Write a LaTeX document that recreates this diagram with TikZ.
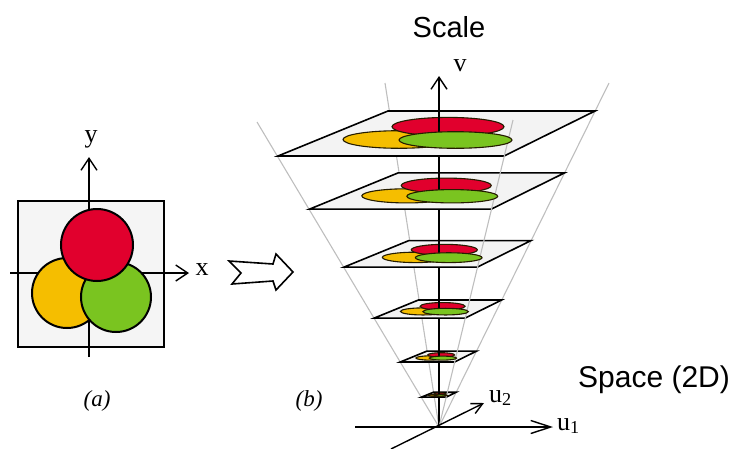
\documentclass[tikz,border=0pt]{standalone}
\usepackage{fontspec}
\setmainfont{Liberation Serif}
\newfontfamily\sansf{Liberation Sans}
\usetikzlibrary{arrows.meta}
\definecolor{cred}{RGB}{225,0,45}
\definecolor{cyel}{RGB}{245,190,0}
\definecolor{cgrn}{RGB}{122,196,32}
\definecolor{cplane}{RGB}{243,243,243}
\definecolor{ccone}{RGB}{190,190,190}
\tikzset{
  axisline/.style={line width=1.4pt, black},
  barb/.style={-{Straight Barb[length=12pt,width=16pt,line width=1.4pt]}},
  smallbarb/.style={-{Straight Barb[length=11pt,width=11pt,line width=1.4pt]}},
  coneline/.style={line width=1.1pt, ccone},
  planebox/.style={fill=cplane, draw=black, line width=1.6pt, line join=miter},
  ellbox/.style={draw=black!85!cyel, line width=1.1pt},
  circbox/.style={draw=black, line width=2pt},
  serlabel/.style={font=\fontsize{26}{30}\selectfont, inner sep=0pt},
  caplabel/.style={font=\itshape\fontsize{23}{27}\selectfont, inner sep=0pt},
  sanslabel/.style={font=\sansf\fontsize{29}{34}\selectfont, inner sep=0pt}
}
\begin{document}
\begin{tikzpicture}[x=1pt,y=-1pt]
\useasboundingbox (0,0) rectangle (737,448);
% ---------- panel (a)
\draw[fill=black!4, draw=black, line width=2.2pt] (18,201) rectangle (164,347);
\draw[axisline, barb] (89,357) -- (89,157);
\draw[axisline, barb] (10,273) -- (189,273);
\node[serlabel] (ylab) at (91,139) {y};
\node[serlabel] (xlab) at (202,270) {x};
\filldraw[circbox, fill=cyel] (67,293) circle [radius=35pt];
\filldraw[circbox, fill=cgrn] (116,297) circle [radius=35pt];
\filldraw[circbox, fill=cred] (97,245) circle [radius=36pt];
\node[caplabel] (alab) at (97,401) {(a)};
% ---------- hollow arrow
\draw[line width=1.6pt, fill=white, line join=miter] (229,261) -- (273,264) -- (276,254) -- (293,272) -- (276,290) -- (273,281) -- (232,284) -- (241,273) -- cycle;
% ---------- panel (b)
\coordinate (apex) at (439,427);
\draw[coneline] (apex) -- (257,122);
\draw[coneline] (apex) -- (609,83);
\draw[coneline] (apex) -- (385,83);
\draw[axisline, barb] (apex) -- (439,76);
\foreach \s in {1,0.804,0.59,0.402,0.24,0.11}{
  \draw[planebox] ({439-161*\s},{427-271*\s}) -- ({439+65*\s},{427-271*\s})
     -- ({439+156*\s},{427-316*\s}) -- ({439-51*\s},{427-316*\s}) -- cycle;
}
\draw[coneline] (apex) -- (513,120);
\foreach \s in {1,0.804,0.59,0.402,0.24,0.11}{
  \filldraw[ellbox, fill=cyel] ({439-40*\s},{427-287.5*\s}) ellipse [x radius={\s*56pt}, y radius={\s*8.8pt}];
  \filldraw[ellbox, fill=cred] ({439+9*\s},{427-300.3*\s}) ellipse [x radius={\s*56pt}, y radius={\s*9.3pt}];
  \draw[axisline] (439,{427-293.5*\s}) -- (439,{427-316*\s});
  \filldraw[ellbox, fill=cgrn] ({439+16.5*\s},{427-287*\s}) ellipse [x radius={\s*56.5pt}, y radius={\s*8.3pt}];
}
\node[serlabel] (vlab) at (460,66) {v};
\draw[axisline, -{Straight Barb[length=20pt,width=13pt,line width=1.4pt]}] (355,427) -- (553,427);
\draw[axisline, smallbarb] (391,449) -- (484,403);
\node[serlabel, anchor=base west] (u1lab) at (557,430) {u\textsubscript{1}};
\node[serlabel, anchor=base west] (u2lab) at (489,402) {u\textsubscript{2}};
\node[caplabel] (blab) at (309,401) {(b)};
\node[sanslabel, anchor=base] (scale) at (449,37) {Scale};
\node[sanslabel, anchor=base west, font=\sansf\fontsize{30}{35}\selectfont] (space) at (578,387) {Space (2D)};
\end{tikzpicture}
\end{document}
